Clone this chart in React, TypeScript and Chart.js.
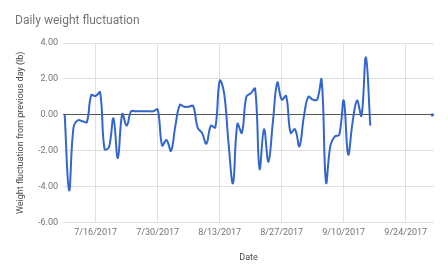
import React, { useEffect, useRef } from "react";
import { Chart, registerables } from "chart.js";

Chart.register(...registerables);

const START_DATE = "2017-07-09";
const TITLE = "Daily weight fluctuation";
const X_TITLE = "Date";
const Y_TITLE = "Weight fluctuation from previous day (lb)";

// daily values from 7/9/2017 to 9/30/2017 (null = no reading)
const weightChange: (number | null)[] = [
  0.0, -4.2, -0.7, -0.3, -0.35, -0.4, 1.1,
  1.05, 1.25, -1.9, -1.8, -0.2, -2.4, 0.05,
  -0.6, 0.2, 0.2, 0.2, 0.2, 0.2, 0.2,
  0.3, -1.7, -1.4, -2.0, -0.6, 0.55, 0.45,
  0.45, 0.5, -0.7, -1.0, -1.6, -0.6, -0.7,
  1.9, 1.2, -1.6, -3.8, -0.5, -1.0, 1.0,
  1.2, 1.45, -3.0, -0.8, -2.6, -0.4, 1.8,
  0.85, 1.05, -1.0, -0.8, -1.75, -0.1, 1.0,
  0.85, 0.85, 1.95, -3.75, -1.7, -1.2, -1.1,
  0.8, -2.2, -0.4, 0.8, -0.05, 3.2, -0.6,
  null, null, null, null, null, null, null,
  null, null, null, null, null, null, 0.0,
];

const xTickDays = [7, 21, 35, 49, 63, 77];
const yTicks = [-6, -4, -2, 0, 2, 4];

function dayLabel(offset: number): string {
  const d = new Date(START_DATE + "T00:00:00");
  d.setDate(d.getDate() + Math.round(offset));
  return `${d.getMonth() + 1}/${d.getDate()}/${d.getFullYear()}`;
}

const titlePlugin = {
  id: "customTitle",
  afterDraw(chart: any) {
    const ctx = chart.ctx;
    ctx.save();
    ctx.font = "12px Roboto";
    ctx.fillStyle = "#757575";
    ctx.textAlign = "left";
    ctx.textBaseline = "middle";
    ctx.fillText(TITLE, 15, 21);
    ctx.restore();
  },
};

export default function App() {
  const ref = useRef<HTMLCanvasElement | null>(null);
  useEffect(() => {
    if (!ref.current) return;
    const points = weightChange.map((v, i) => ({ x: i, y: v }));
    const chart = new Chart(ref.current, {
      type: "line",
      data: {
        datasets: [
          {
            data: points as any,
            borderColor: "#3366cc",
            backgroundColor: "#3366cc",
            borderWidth: 2,
            tension: 0.4,
            spanGaps: false,
            pointBorderWidth: 0,
            pointRadius: (c: any) => {
              const i = c.dataIndex;
              const v = weightChange[i];
              const prev = i > 0 ? weightChange[i - 1] : null;
              const next = i < weightChange.length - 1 ? weightChange[i + 1] : null;
              return v !== null && prev === null && next === null ? 1.6 : 0;
            },
            pointHoverRadius: 0,
          },
        ],
      },
      options: {
        animation: false,
        responsive: false,
        maintainAspectRatio: false,
        layout: { padding: { top: 43, right: 14, left: 0, bottom: 0 } },
        plugins: {
          legend: { display: false },
          tooltip: { enabled: false },
          title: { display: false },
        },
        scales: {
          x: {
            type: "linear",
            min: -0.38,
            max: 83.38,
            afterBuildTicks: (s: any) => {
              s.ticks = xTickDays.map((v) => ({ value: v }));
            },
            afterFit: (s: any) => {
              s.height = 54.3;
            },
            border: { display: false },
            grid: { color: "#e0e0e0", drawTicks: false, lineWidth: 1 },
            ticks: {
              padding: 5,
              color: "#757575",
              font: { family: "Roboto", size: 9 },
              maxRotation: 0,
              autoSkip: false,
              callback: (v: any) => dayLabel(Number(v)),
            },
            title: {
              display: true,
              text: X_TITLE,
              color: "#4a4a4a",
              font: { family: "Roboto", size: 9 },
              padding: { top: 0, bottom: 14 },
            },
          },
          y: {
            min: -6,
            max: 4,
            afterBuildTicks: (s: any) => {
              s.ticks = yTicks.map((v) => ({ value: v }));
            },
            afterFit: (s: any) => {
              s.width = 63;
            },
            border: { display: false },
            grid: {
              drawTicks: false,
              lineWidth: 1,
              color: (c: any) => (c.tick && c.tick.value === 0 ? "#555555" : "#e0e0e0"),
            },
            ticks: {
              padding: 5,
              color: "#757575",
              font: { family: "Roboto", size: 9 },
              callback: (v: any) => Number(v).toFixed(2),
            },
            title: {
              display: true,
              text: Y_TITLE,
              color: "#4a4a4a",
              font: { family: "Roboto", size: 9 },
              padding: { top: 15.6, bottom: 0 },
            },
          },
        },
      },
      plugins: [titlePlugin],
    });
    return () => chart.destroy();
  }, []);
  return (
    <div style={{ position: "absolute", left: 0, top: 0, width: 448, height: 277, background: "#fff" }}>
      <canvas ref={ref} width={448} height={277} style={{ width: 448, height: 277, display: "block" }} />
    </div>
  );
}
